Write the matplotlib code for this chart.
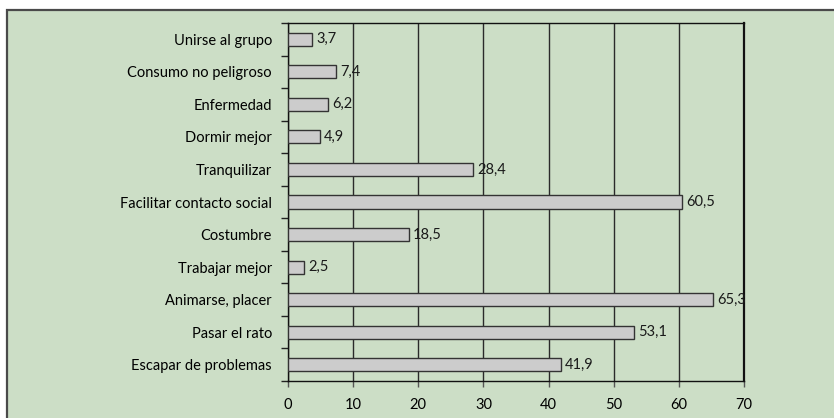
import matplotlib
matplotlib.use('Agg')
import matplotlib.pyplot as plt
from matplotlib.patches import Rectangle
import numpy as np

plt.rcParams["font.family"] = ["Lato", "DejaVu Sans"]

categories = ["Escapar de problemas", "Pasar el rato", "Animarse, placer",
              "Trabajar mejor", "Costumbre", "Facilitar contacto social",
              "Tranquilizar", "Dormir mejor", "Enfermedad",
              "Consumo no peligroso", "Unirse al grupo"]
values = [41.9, 53.1, 65.3, 2.5, 18.5, 60.5, 28.4, 4.9, 6.2, 7.4, 3.7]
xticks = [0, 10, 20, 30, 40, 50, 60, 70]

bg = "#ccdec6"
W, H = 834, 418
fig = plt.figure(figsize=(W / 100, H / 100), dpi=100, facecolor="white")

# outer green panel with dark border
fig.patches.append(Rectangle((7 / W, -0.05), 1.2, 1 - 10 / H + 0.05,
                             transform=fig.transFigure, facecolor=bg,
                             edgecolor="#4a4a4a", linewidth=1.6, zorder=-1))

ax = fig.add_axes([288 / W, 1 - 381 / H, (744 - 288) / W, (381 - 23) / H])
ax.set_facecolor(bg)

y = np.arange(len(categories))
ax.barh(y, values, height=0.4, color="#cccccc", edgecolor="#333333",
        linewidth=1.0, zorder=3)
for yi, v in zip(y, values):
    ax.text(v + 0.6, yi, f"{v:.1f}".replace(".", ","), va="center", ha="left",
            fontsize=10.5, color="#1a1a1a", zorder=4)

ax.set_xlim(0, 70)
ax.set_ylim(-0.5, len(categories) - 0.5)
ax.set_xticks(xticks)
ax.set_xticklabels([str(t) for t in xticks], fontsize=10.5)
ax.set_yticks(y)
ax.set_yticklabels(categories, fontsize=10.5)
ax.set_yticks(np.arange(-0.5, len(categories), 1.0), minor=True)
ax.tick_params(axis="y", which="major", length=0, pad=11.5)
ax.tick_params(axis="y", which="minor", length=5, width=1, color="#222222")
ax.tick_params(axis="x", length=4, width=1, color="#555555", pad=8)
ax.grid(axis="x", color="#2a2a2a", linewidth=1.0, zorder=1)
for s in ax.spines.values():
    s.set_color("#111111")
    s.set_linewidth(1.0)
ax.spines["right"].set_linewidth(1.6)

fig.savefig("out.png", dpi=100, facecolor="white")
